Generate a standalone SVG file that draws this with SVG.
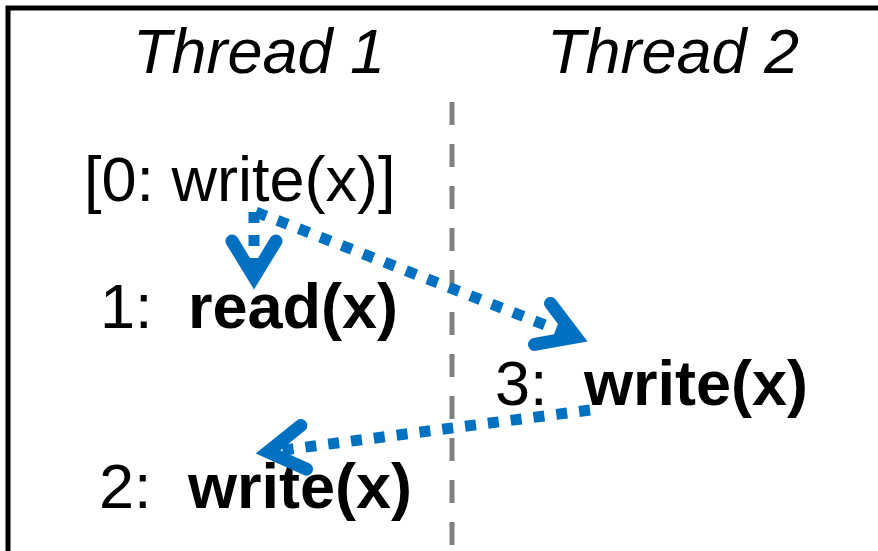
<svg xmlns="http://www.w3.org/2000/svg" width="878" height="551" viewBox="0 0 878 551">
  <style>
    .t { font-family: "Liberation Sans", Arial, sans-serif; font-size: 63px; fill: #000; }
    .it { font-style: italic; }
    .b { font-weight: bold; }
    .frame { fill: none; stroke: #000; stroke-width: 5; }
    .divider { fill: none; stroke: #808080; stroke-width: 5; stroke-dasharray: 23 19; }
    .edge { fill: none; stroke: #0070C0; stroke-width: 11; stroke-dasharray: 11 12; marker-end: url(#head); }
  </style>
  <defs>
    <marker id="head" markerUnits="userSpaceOnUse" orient="auto" viewBox="-60 -40 80 80" refX="0" refY="0" markerWidth="80" markerHeight="80" overflow="visible">
      <path d="M-36,-22 L0,0 L-36,22" fill="none" stroke="#0070C0" stroke-width="13" stroke-linecap="round" stroke-linejoin="miter" stroke-miterlimit="10"/>
    </marker>
  </defs>

  <!-- frame and thread divider -->
  <path class="frame" d="M8,551 V8 H878"/>
  <line class="divider" x1="452" y1="102" x2="452" y2="551"/>

  <!-- column headers -->
  <g id="thread1-header"><text class="t it" x="133" y="73">Thread 1</text></g>
  <g id="thread2-header"><text class="t it" x="547" y="73">Thread 2</text></g>

  <!-- events -->
  <g id="ev0"><text class="t" x="84" y="201">[0: write(x)]</text></g>
  <g id="ev1"><text class="t" y="328"><tspan x="100">1:</tspan><tspan class="b" x="188">read(x)</tspan></text></g>
  <g id="ev3"><text class="t" y="405"><tspan x="495">3:</tspan><tspan class="b" x="584">write(x)</tspan></text></g>
  <g id="ev2"><text class="t" y="508"><tspan x="99">2:</tspan><tspan class="b" x="188">write(x)</tspan></text></g>

  <!-- ordering edges -->
  <g id="edges">
    <line class="edge" x1="254" y1="212" x2="254" y2="277"/>
    <line class="edge" x1="256" y1="212" x2="576" y2="337"/>
    <line class="edge" x1="590" y1="410" x2="268" y2="452"/>
  </g>
</svg>
